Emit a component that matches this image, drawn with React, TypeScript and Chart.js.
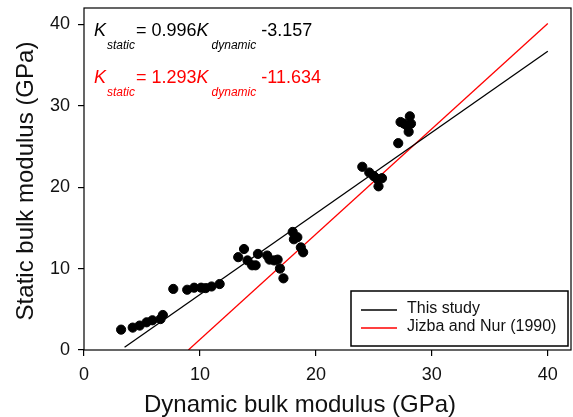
import React, { useEffect, useRef } from 'react';
import { Chart, registerables } from 'chart.js';

Chart.register(...registerables);

const FF = "'Liberation Sans', Arial, sans-serif";

// Measured points (dynamic vs static bulk modulus, GPa)
const DYNAMIC_K = [3.2, 4.2, 4.8, 5.4, 5.9, 6.6, 6.8, 7.7, 8.9, 9.5, 10.1, 10.5, 11.0, 11.7,
  13.3, 13.8, 14.1, 14.5, 14.8, 15.0, 15.8, 16.0, 16.4, 16.7, 16.9, 17.2, 18.0, 18.1, 18.4, 18.7, 18.9,
  24.0, 24.6, 25.0, 25.3, 25.4, 25.7, 27.1, 27.3, 27.6, 27.9, 28.0, 28.1, 28.2];
const STATIC_K = [2.5, 2.75, 3.0, 3.4, 3.65, 3.8, 4.3, 7.5, 7.4, 7.65, 7.65, 7.6, 7.8, 8.1,
  11.4, 12.4, 11.0, 10.4, 10.4, 11.8, 11.6, 11.1, 11.0, 11.1, 10.0, 8.8, 14.5, 13.6, 13.85, 12.6, 12.0,
  22.5, 21.8, 21.35, 21.0, 20.1, 21.1, 25.4, 28.0, 27.8, 27.5, 26.8, 28.7, 27.8];

// Fit lines (end points)
const THIS_STUDY_X = [3.5, 40];
const THIS_STUDY_Y = [0.33, 36.68];
const JIZBA_X = [9.0, 40];
const JIZBA_Y = [0.0, 40.09];

const SERIES_LABELS = ['This study', 'Jizba and Nur (1990)'];
const SERIES_COLORS = ['#000000', '#ff0000'];

const TICKS = [0, 10, 20, 30, 40];
const AXIS_MIN = 0;
const AXIS_MAX = 42;

const X_TITLE = 'Dynamic bulk modulus (GPa)';
const Y_TITLE = 'Static bulk modulus (GPa)';

const EQ_COEF = ['= 0.996', '= 1.293'];
const EQ_TAIL = [' -3.157', ' -11.634'];

function drawEq(ctx: CanvasRenderingContext2D, x0: number, baseY: number, subY: number, color: string, coef: string, tail: string) {
  let x = x0;
  const big = `18px ${FF}`;
  const bigI = `italic 18px ${FF}`;
  const sub = `italic 12px ${FF}`;
  ctx.fillStyle = color;
  ctx.textAlign = 'left';
  ctx.textBaseline = 'alphabetic';
  ctx.font = bigI;
  ctx.fillText('K', x, baseY);
  x += ctx.measureText('K').width + 1;
  ctx.font = sub;
  ctx.fillText('static', x, subY);
  x += ctx.measureText('static').width + 1;
  ctx.font = big;
  ctx.fillText(coef, x, baseY);
  x += ctx.measureText(coef).width;
  ctx.font = bigI;
  ctx.fillText('K', x, baseY);
  x += ctx.measureText('K').width + 3;
  ctx.font = sub;
  ctx.fillText('dynamic', x, subY);
  x += ctx.measureText('dynamic').width;
  ctx.font = big;
  ctx.fillText(tail, x, baseY);
}

const decorPlugin = {
  id: 'decor',
  afterDraw(chart: any) {
    const ctx: CanvasRenderingContext2D = chart.ctx;
    const a = chart.chartArea;
    ctx.save();
    // frame
    ctx.strokeStyle = '#000';
    ctx.lineWidth = 1.2;
    ctx.strokeRect(a.left, a.top, a.right - a.left, a.bottom - a.top);

    // equations
    drawEq(ctx, 94, 36, 49, SERIES_COLORS[0], EQ_COEF[0], EQ_TAIL[0]);
    drawEq(ctx, 94, 83, 96, SERIES_COLORS[1], EQ_COEF[1], EQ_TAIL[1]);

    // legend
    ctx.lineWidth = 1.5;
    ctx.strokeStyle = '#000';
    ctx.strokeRect(351, 291, 217, 55);
    const rows = [310, 328];
    ctx.font = `16px ${FF}`;
    ctx.textBaseline = 'middle';
    ctx.textAlign = 'left';
    rows.forEach((y, i) => {
      ctx.strokeStyle = SERIES_COLORS[i];
      ctx.lineWidth = 1.3;
      ctx.beginPath();
      ctx.moveTo(361, y);
      ctx.lineTo(397, y);
      ctx.stroke();
      ctx.fillStyle = '#111';
      ctx.fillText(SERIES_LABELS[i], 407, y - 1);
    });

    // axis titles
    ctx.fillStyle = '#111';
    ctx.font = `24px ${FF}`;
    ctx.textAlign = 'center';
    ctx.textBaseline = 'middle';
    ctx.fillText(X_TITLE, 300, 405);
    ctx.translate(26, (a.top + a.bottom) / 2 + 2);
    ctx.rotate(-Math.PI / 2);
    ctx.fillText(Y_TITLE, 0, 0);
    ctx.restore();
  },
};

export default function App() {
  const ref = useRef<HTMLCanvasElement | null>(null);
  useEffect(() => {
    if (!ref.current) return;
    const pts = DYNAMIC_K.map((x, i) => ({ x, y: STATIC_K[i] }));
    const l1 = THIS_STUDY_X.map((x, i) => ({ x, y: THIS_STUDY_Y[i] }));
    const l2 = JIZBA_X.map((x, i) => ({ x, y: JIZBA_Y[i] }));
    const tickFix = (scale: any) => {
      scale.ticks = TICKS.map((v) => ({ value: v }));
    };
    const chart = new Chart(ref.current, {
      type: 'scatter',
      data: {
        datasets: [
          {
            label: 'Data',
            data: pts,
            backgroundColor: '#000',
            borderColor: '#000',
            pointRadius: 4.6,
            pointHoverRadius: 4.6,
            order: 1,
          },
          {
            type: 'line',
            label: SERIES_LABELS[0],
            data: l1,
            borderColor: SERIES_COLORS[0],
            borderWidth: 1.3,
            pointRadius: 0,
            fill: false,
            order: 2,
          },
          {
            type: 'line',
            label: SERIES_LABELS[1],
            data: l2,
            borderColor: SERIES_COLORS[1],
            borderWidth: 1.3,
            pointRadius: 0,
            fill: false,
            order: 3,
          },
        ] as any,
      },
      options: {
        responsive: false,
        animation: false,
        events: [],
        layout: { padding: { left: 0, top: 8, right: 2, bottom: 0 }, autoPadding: false } as any,
        plugins: { legend: { display: false }, tooltip: { enabled: false }, title: { display: false } },
        scales: {
          x: {
            type: 'linear',
            min: AXIS_MIN,
            max: AXIS_MAX,
            afterBuildTicks: tickFix,
            afterFit: (s: any) => {
              s.height = 67;
              s.paddingLeft = 0; s.paddingRight = 0; s.paddingTop = 0; s.paddingBottom = 0;
            },
            grid: { drawOnChartArea: false, drawTicks: true, tickLength: 6, color: '#000', lineWidth: 1.2 },
            border: { display: false },
            ticks: { color: '#111', font: { family: FF, size: 18 }, padding: 8, maxRotation: 0 },
          },
          y: {
            type: 'linear',
            min: AXIS_MIN,
            max: AXIS_MAX,
            afterBuildTicks: tickFix,
            afterFit: (s: any) => {
              s.width = 84;
              s.paddingLeft = 0; s.paddingRight = 0; s.paddingTop = 0; s.paddingBottom = 0;
            },
            grid: { drawOnChartArea: false, drawTicks: true, tickLength: 6, color: '#000', lineWidth: 1.2 },
            border: { display: false },
            ticks: { color: '#111', font: { family: FF, size: 18 }, padding: 8 },
          },
        },
      } as any,
      plugins: [decorPlugin],
    });
    return () => chart.destroy();
  }, []);
  return (
    <div style={{ position: 'fixed', left: 0, top: 0, width: 573, height: 417, background: '#fff' }}>
      <canvas ref={ref} width={573} height={417} style={{ display: 'block' }} />
    </div>
  );
}
